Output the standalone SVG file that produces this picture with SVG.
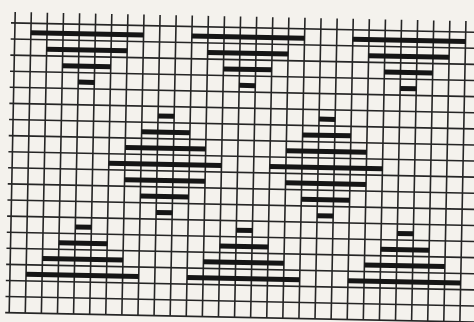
<svg xmlns="http://www.w3.org/2000/svg" width="474" height="322" viewBox="0 0 474 322">
<style>
.g{stroke:#252525;stroke-width:1.6;fill:none}
.b rect{fill:#151515;height:5px}
</style>
<rect width="474" height="322" fill="#f4f2ed"/>
<g transform="translate(15,23) rotate(1.15)">
<g id="grid">
<path class="g" d="M0,-11V289.8M16.1,-11V289.8M32.2,-11V289.8M48.3,-11V289.8M64.4,-11V289.8M80.5,-11V289.8M96.6,-11V289.8M112.7,-11V289.8M128.8,-11V289.8M144.9,-11V289.8M161,-11V289.8M177.1,-11V289.8M193.2,-11V289.8M209.3,-11V289.8M225.4,-11V289.8M241.5,-11V289.8M257.6,-11V289.8M273.7,-11V289.8M289.8,-11V289.8M305.9,-11V289.8M322,-11V289.8M338.1,-11V289.8M354.2,-11V289.8M370.3,-11V289.8M386.4,-11V289.8M402.5,-11V289.8M418.6,-11V289.8M434.7,-11V289.8M450.8,-11V289.8"/>
<path class="g" d="M-4,0H470M-4,16.1H470M-4,32.2H470M-4,48.3H470M-4,64.4H470M-4,80.5H470M-4,96.6H470M-4,112.7H470M-4,128.8H470M-4,144.9H470M-4,161H470M-4,177.1H470M-4,193.2H470M-4,209.3H470M-4,225.4H470M-4,241.5H470M-4,257.6H470M-4,273.7H470M-4,289.8H470"/>
</g>
<g id="motif-top-left" class="b">
<rect x="16.1" y="7" width="112.7"/><rect x="32.2" y="23.1" width="80.5"/><rect x="48.3" y="39.2" width="48.3"/><rect x="64.4" y="55.3" width="16.1"/>
</g>
<g id="motif-top-middle" class="b">
<rect x="177.1" y="7" width="112.7"/><rect x="193.2" y="23.1" width="80.5"/><rect x="209.3" y="39.2" width="48.3"/><rect x="225.4" y="55.3" width="16.1"/>
</g>
<g id="motif-top-right" class="b">
<rect x="338.1" y="7" width="112.7"/><rect x="354.2" y="23.1" width="80.5"/><rect x="370.3" y="39.2" width="48.3"/><rect x="386.4" y="55.3" width="16.1"/>
</g>
<g id="motif-diamond-left" class="b">
<rect x="144.9" y="87.5" width="16.1"/><rect x="128.8" y="103.6" width="48.3"/><rect x="112.7" y="119.7" width="80.5"/><rect x="96.6" y="135.8" width="112.7"/><rect x="112.7" y="151.9" width="80.5"/><rect x="128.8" y="168" width="48.3"/><rect x="144.9" y="184.1" width="16.1"/>
</g>
<g id="motif-diamond-right" class="b">
<rect x="305.9" y="87.5" width="16.1"/><rect x="289.8" y="103.6" width="48.3"/><rect x="273.7" y="119.7" width="80.5"/><rect x="257.6" y="135.8" width="112.7"/><rect x="273.7" y="151.9" width="80.5"/><rect x="289.8" y="168" width="48.3"/><rect x="305.9" y="184.1" width="16.1"/>
</g>
<g id="motif-bottom-left" class="b">
<rect x="64.4" y="200.2" width="16.1"/><rect x="48.3" y="216.3" width="48.3"/><rect x="32.2" y="232.4" width="80.5"/><rect x="16.1" y="248.5" width="112.7"/>
</g>
<g id="motif-bottom-middle" class="b">
<rect x="225.4" y="200.2" width="16.1"/><rect x="209.3" y="216.3" width="48.3"/><rect x="193.2" y="232.4" width="80.5"/><rect x="177.1" y="248.5" width="112.7"/>
</g>
<g id="motif-bottom-right" class="b">
<rect x="386.4" y="200.2" width="16.1"/><rect x="370.3" y="216.3" width="48.3"/><rect x="354.2" y="232.4" width="80.5"/><rect x="338.1" y="248.5" width="112.7"/>
</g>
</g>
</svg>
